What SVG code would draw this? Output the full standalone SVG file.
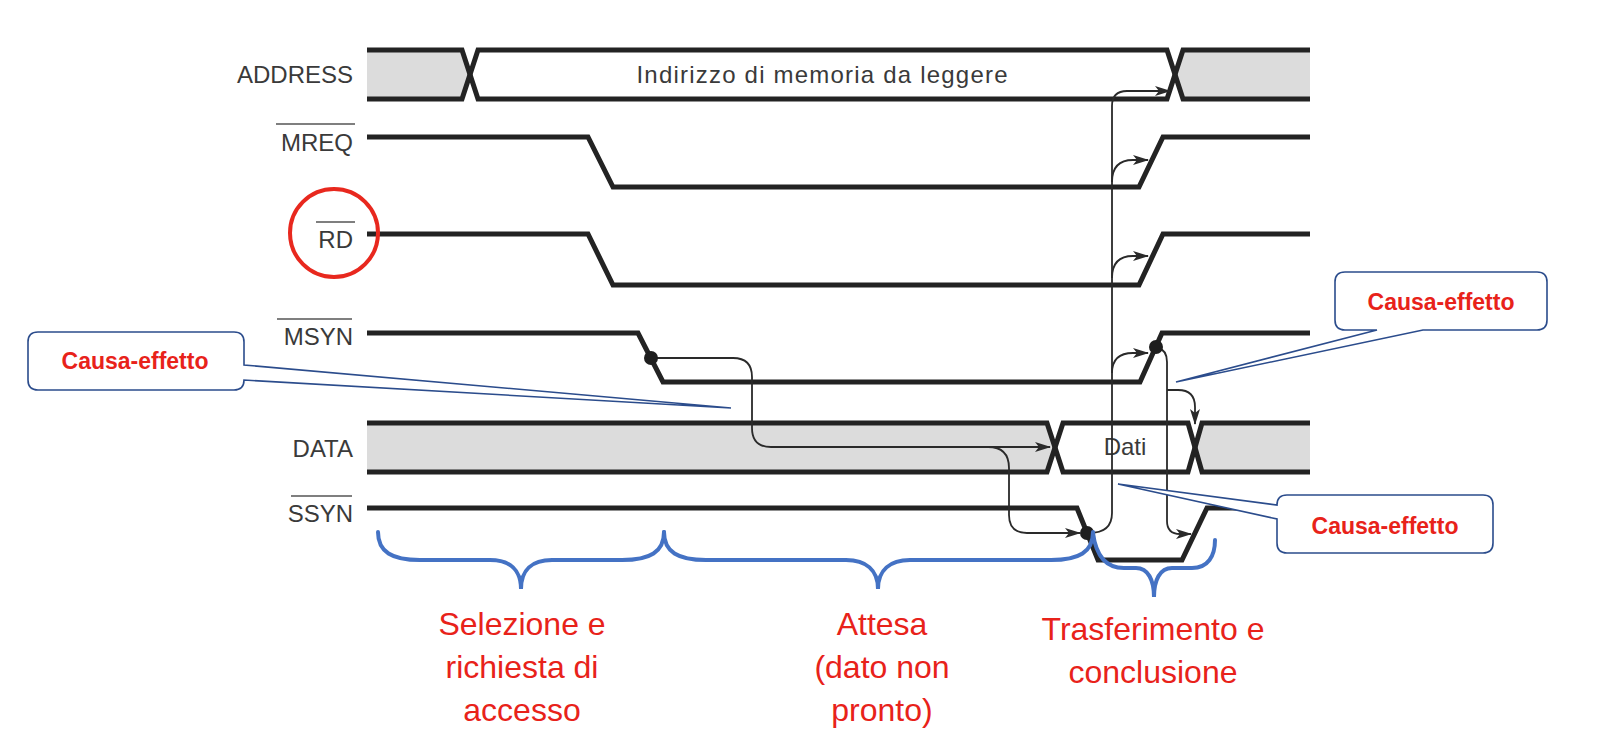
<svg xmlns="http://www.w3.org/2000/svg" width="1606" height="744" viewBox="0 0 1606 744">
<style>
.sig{fill:none;stroke:#232323;stroke-width:5;stroke-linejoin:miter}
.grey{fill:#dcdcdc;stroke:none}
.lbl{font-family:"Liberation Sans",Arial,sans-serif;font-size:24px;fill:#3a3a3a}
.ov{stroke:#555;stroke-width:1.5}
.con{fill:none;stroke:#2a2a2a;stroke-width:1.8}
.dot{fill:#1e1e1e}
.call{fill:#fff;stroke:#2b4c8c;stroke-width:1.6;stroke-linejoin:miter}
.ctext{font-family:"Liberation Sans",Arial,sans-serif;font-size:23px;font-weight:bold;fill:#e8221a;text-anchor:middle}
.brace{fill:none;stroke:#4472c4;stroke-width:4;stroke-linecap:round}
.ph{font-family:"Liberation Sans",Arial,sans-serif;font-size:32px;fill:#e8221a;text-anchor:middle}
</style>
<defs>
<marker id="arr" viewBox="0 0 16 10" refX="15" refY="5" markerWidth="16" markerHeight="10" markerUnits="userSpaceOnUse" orient="auto">
<path d="M0,0 L16,5 L0,10 L4,5 Z" fill="#2a2a2a"/>
</marker>
</defs>
<rect width="1606" height="744" fill="#fff"/>

<g id="address">
<polygon class="grey" points="367,50 462,50 470,74.5 462,99 367,99"/>
<polygon class="grey" points="1310,50 1183,50 1175,74.5 1183,99 1310,99"/>
<path class="sig" d="M367,50 H462 L478,99 H1167 L1183,50 H1310"/>
<path class="sig" d="M367,99 H462 L478,50 H1167 L1183,99 H1310"/>
<text class="lbl" x="353" y="83" text-anchor="end">ADDRESS</text>
<text class="lbl" x="822" y="83" text-anchor="middle" textLength="371" lengthAdjust="spacing">Indirizzo di memoria da leggere</text>
</g>

<g id="mreq">
<path class="sig" d="M367,137 H588 L613,187 H1139 L1163,137 H1310"/>
<text class="lbl" x="353" y="151" text-anchor="end">MREQ</text>
<line class="ov" x1="276" y1="124" x2="355" y2="124"/>
</g>

<g id="rd">
<path class="sig" d="M367,234 H588 L613,285 H1139 L1163,234 H1310"/>
<text class="lbl" x="353" y="248" text-anchor="end">RD</text>
<line class="ov" x1="316" y1="222" x2="355" y2="222"/>
<circle cx="334" cy="233" r="44" fill="none" stroke="#e8281e" stroke-width="4"/>
</g>

<g id="msyn">
<path class="sig" d="M367,333 H638 L663,382 H1140 L1162,333 H1310"/>
<text class="lbl" x="353" y="345" text-anchor="end">MSYN</text>
<line class="ov" x1="277" y1="319" x2="352" y2="319"/>
</g>

<g id="data">
<polygon class="grey" points="367,423 1047,423 1055,447.5 1047,472 367,472"/>
<polygon class="grey" points="1310,423 1202,423 1195,447.5 1202,472 1310,472"/>
<path class="sig" d="M367,423 H1047 L1063,472 H1188 L1202,423 H1310"/>
<path class="sig" d="M367,472 H1047 L1063,423 H1188 L1202,472 H1310"/>
<text class="lbl" x="353" y="457" text-anchor="end">DATA</text>
<text class="lbl" x="1125" y="455" text-anchor="middle">Dati</text>
</g>

<g id="ssyn">
<path class="sig" d="M367,508 H1077 L1098,560 H1182 L1207,508 H1310"/>
<text class="lbl" x="353" y="522" text-anchor="end">SSYN</text>
<line class="ov" x1="291" y1="496" x2="352" y2="496"/>
</g>

<g id="connectors">
<path class="con" d="M652,358 H733 Q752,358 752,377 V428 Q752,447 771,447 H1050" marker-end="url(#arr)"/>
<path class="con" d="M988,447 Q1009,447 1009,468 V515 Q1009,533 1027,533 H1080" marker-end="url(#arr)"/>
<path class="con" d="M1089,533 Q1112,533 1112,513 V106 Q1112,91 1127,91 H1170" marker-end="url(#arr)"/>
<path class="con" d="M1112,182 Q1112,160 1133,160 H1148" marker-end="url(#arr)"/>
<path class="con" d="M1112,278 Q1112,256 1133,256 H1148" marker-end="url(#arr)"/>
<path class="con" d="M1112,373 Q1112,353 1133,353 H1148" marker-end="url(#arr)"/>
<path class="con" d="M1158,348 Q1167,350 1167,362 V521 Q1167,534 1180,534 H1191" marker-end="url(#arr)"/>
<path class="con" d="M1167,390 H1178 Q1195,390 1195,407 V424" marker-end="url(#arr)"/>
<circle class="dot" cx="651" cy="358" r="7"/>
<circle class="dot" cx="1156" cy="347" r="7"/>
<circle class="dot" cx="1087" cy="533" r="7"/>
</g>

<g id="callout-left">
<path class="call" d="M38,332 H234 Q244,332 244,342 V365 L731,408 L244,380 Q244,390 234,390 H38 Q28,390 28,380 V342 Q28,332 38,332 Z"/>
<text class="ctext" x="135" y="369">Causa-effetto</text>
</g>

<g id="callout-top-right">
<path class="call" d="M1345,272 H1537 Q1547,272 1547,282 V320 Q1547,330 1537,330 H1423 L1176,382 L1377,330 H1345 Q1335,330 1335,320 V282 Q1335,272 1345,272 Z"/>
<text class="ctext" x="1441" y="310">Causa-effetto</text>
</g>

<g id="callout-bottom-right">
<path class="call" d="M1287,495 H1483 Q1493,495 1493,505 V543 Q1493,553 1483,553 H1287 Q1277,553 1277,543 V519 L1118,484 L1277,505 Q1277,495 1287,495 Z"/>
<text class="ctext" x="1385" y="534">Causa-effetto</text>
</g>

<g id="phase-1">
<path class="brace" d="M378,532 C378,552 392,560 420,560 L490,560 C510,560 521,570 521,589 C521,570 532,560 552,560 L622,560 C650,560 664,552 664,532"/>
<text class="ph" x="522" y="635">Selezione e</text>
<text class="ph" x="522" y="678">richiesta di</text>
<text class="ph" x="522" y="721">accesso</text>
</g>

<g id="phase-2">
<path class="brace" d="M664,532 C664,552 678,560 706,560 L846,560 C866,560 878,570 878,589 C878,570 890,560 910,560 L1051,560 C1079,560 1093,552 1093,532"/>
<text class="ph" x="882" y="635">Attesa</text>
<text class="ph" x="882" y="678">(dato non</text>
<text class="ph" x="882" y="721">pronto)</text>
</g>

<g id="phase-3">
<path class="brace" d="M1093,533 C1096,556 1106,568 1124,568 L1136,568 C1148,568 1154,580 1154,597 C1154,580 1160,568 1172,568 L1192,568 C1208,568 1215,556 1215,540"/>
<text class="ph" x="1153" y="640">Trasferimento e</text>
<text class="ph" x="1153" y="683">conclusione</text>
</g>
</svg>
